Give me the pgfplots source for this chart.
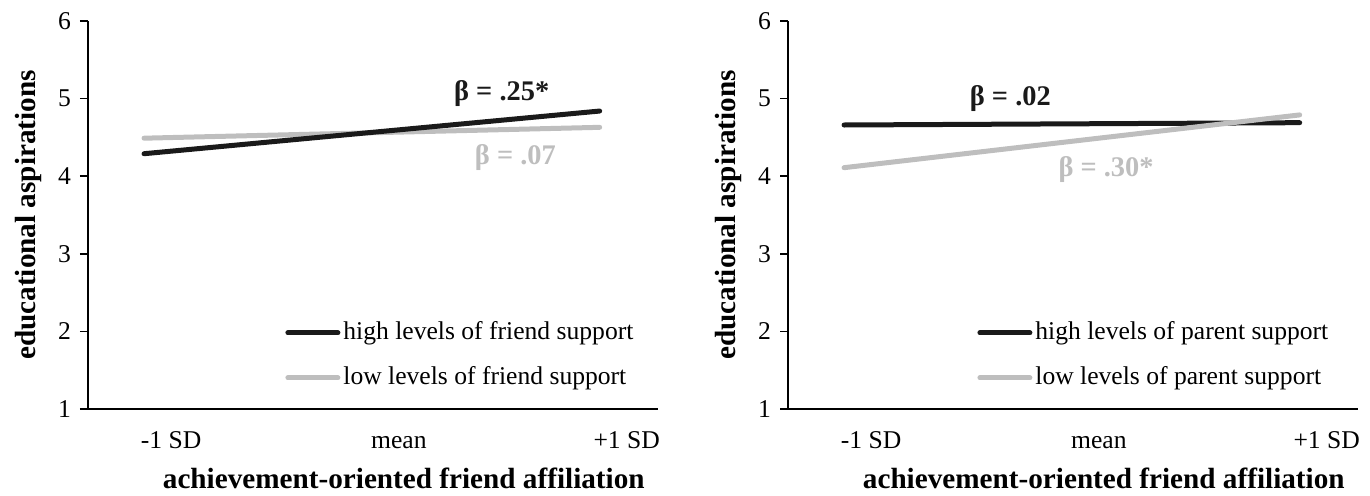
\documentclass[border=0pt]{standalone}
\usepackage{fontspec}
\setmainfont{Liberation Serif}
\usepackage{pgfplots}
\pgfplotsset{compat=1.18}

\definecolor{hi}{RGB}{26,26,26}
\definecolor{lo}{RGB}{190,190,190}

\newcommand{\tickfont}{\fontsize{12.8}{14}\selectfont}
\newcommand{\labfont}{\fontsize{14.6}{16}\selectfont\bfseries}
\newcommand{\betafont}{\fontsize{14.2}{16}\selectfont\bfseries}

\pgfplotsset{
  slopeplot/.style={
    scale only axis,
    width=285pt, height=194pt,
    xmin=-0.246, xmax=2.256,
    ymin=1, ymax=6,
    axis x line=bottom, axis y line=left,
    axis line style={-, line width=0.75pt, black},
    xtick={0,1,2},
    xticklabels={-1 SD, mean, +1 SD},
    xtick style={draw=none},
    xticklabel style={xshift=13.5pt, yshift=-3pt, font=\tickfont, text height=9pt, text depth=0pt},
    ytick={1,2,3,4,5,6},
    yticklabels={1,2,3,4,5,6},
    ytick style={line width=0.75pt, black},
    tick align=outside,
    major tick length=4pt,
    yticklabel style={font=\tickfont, xshift=-1pt},
    every axis y label/.style={at={(axis description cs:0,0.5)}, xshift=-30pt, rotate=90, anchor=center, font=\labfont},
    every axis x label/.style={at={(axis description cs:0.554,0)}, yshift=-34.5pt, anchor=center, font=\labfont},
    ylabel={educational aspirations},
    xlabel={achievement-oriented friend affiliation},
    legend image code/.code={\draw[#1, line cap=round] (0pt,0pt) -- (25pt,0pt);},
    legend style={draw=none, fill=none, inner sep=0pt, anchor=west, row sep=10.7pt,
      font=\tickfont, cells={anchor=west},
      nodes={inner sep=0pt, inner xsep=1.5pt, text height=9pt, text depth=2.8pt}},
    clip=false,
  },
  hiline/.style={hi, line width=2.5pt, line cap=round},
  loline/.style={lo, line width=2.5pt, line cap=round},
}

\begin{document}
\begin{tikzpicture}
\useasboundingbox (-44pt,-43pt) rectangle (641pt,204.5pt);

% left panel: friend support
\begin{axis}[slopeplot, legend style={at={(axis description cs:0.3456,0.138)}}]
\addplot[loline, forget plot] coordinates {(0,4.49) (2,4.63)};
\addplot[hiline] coordinates {(0,4.29) (2,4.84)};
\addlegendentry{high levels of friend support}
\addlegendimage{loline}
\addlegendentry{low levels of friend support}
\node[font=\betafont, text=hi] at (axis cs:1.57,5.07) {β = .25*};
\node[font=\betafont, text=lo] at (axis cs:1.63,4.24) {β = .07};
\end{axis}

% right panel: parent support
\begin{axis}[slopeplot, xshift=350pt, legend style={at={(axis description cs:0.3316,0.138)}}]
\addplot[hiline, forget plot] coordinates {(0,4.66) (2,4.69)};
\addplot[loline, forget plot] coordinates {(0,4.11) (2,4.79)};
\addlegendimage{hiline}
\addlegendentry{high levels of parent support}
\addlegendimage{loline}
\addlegendentry{low levels of parent support}
\node[font=\betafont, text=hi] at (axis cs:0.73,5.0) {β = .02};
\node[font=\betafont, text=lo] at (axis cs:1.15,4.08) {β = .30*};
\end{axis}
\end{tikzpicture}
\end{document}
